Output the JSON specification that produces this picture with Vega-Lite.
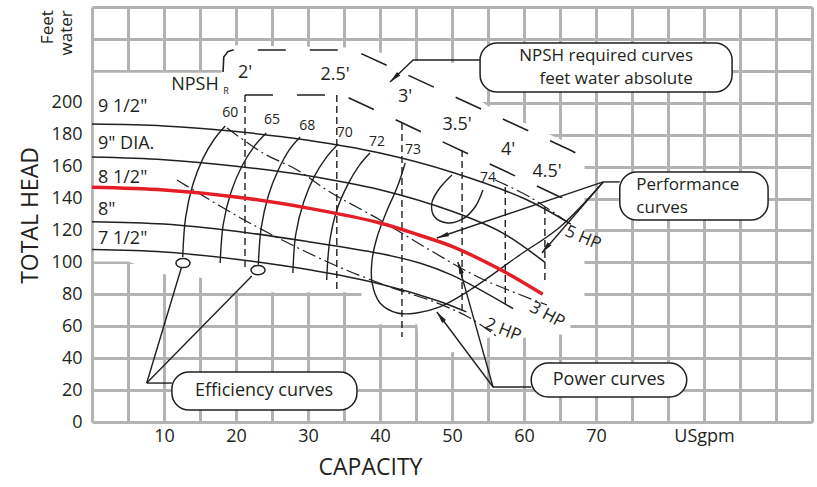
{
  "$schema": "https://vega.github.io/schema/vega-lite/v6.json",
  "width": 720,
  "height": 415,
  "autosize": {"type": "none"},
  "padding": {"left": 92, "top": 7, "right": 5, "bottom": 65},
  "background": "white",
  "config": {"view": {"stroke": null}, "font": "Open Sans"},
  "datasets": {
    "knock": [
      {"gpm": 0.25, "ft": 218.8, "ft2": 100.5},
      {"gpm": 5.0, "ft": 218.8, "ft2": 100.5},
      {"gpm": 10.0, "ft": 218.8, "ft2": 92.5},
      {"gpm": 15.0, "ft": 218.8, "ft2": 90.5},
      {"gpm": 18.0, "ft": 218.8, "ft2": 86},
      {"gpm": 18.2, "ft": 236, "ft2": 85.5},
      {"gpm": 20.0, "ft": 236, "ft2": 81.3},
      {"gpm": 37.4, "ft": 234.5, "ft2": 81.3},
      {"gpm": 37.7, "ft": 234, "ft2": 61.3},
      {"gpm": 45.2, "ft": 226, "ft2": 61.3},
      {"gpm": 45.5, "ft": 226, "ft2": 44},
      {"gpm": 50, "ft": 225, "ft2": 43.5},
      {"gpm": 53.8, "ft": 225, "ft2": 50.5},
      {"gpm": 54.0, "ft": 201, "ft2": 51},
      {"gpm": 55, "ft": 197.9, "ft2": 52.8},
      {"gpm": 60, "ft": 187.5, "ft2": 52.8},
      {"gpm": 65, "ft": 177.1, "ft2": 54.8},
      {"gpm": 66.3, "ft": 174.4, "ft2": 54.8},
      {"gpm": 66.5, "ft": 174, "ft2": 61.3},
      {"gpm": 68.4, "ft": 170, "ft2": 61.3}
    ],
    "imp": [
      {"curve": "9 1/2", "gpm": 0, "ft": 186.7}, {"curve": "9 1/2", "gpm": 10, "ft": 185.5}, {"curve": "9 1/2", "gpm": 20, "ft": 182}, {"curve": "9 1/2", "gpm": 30, "ft": 176.5}, {"curve": "9 1/2", "gpm": 40, "ft": 168.5}, {"curve": "9 1/2", "gpm": 50, "ft": 156.5}, {"curve": "9 1/2", "gpm": 60, "ft": 140}, {"curve": "9 1/2", "gpm": 66.5, "ft": 124},
      {"curve": "9", "gpm": 0, "ft": 166}, {"curve": "9", "gpm": 10, "ft": 164.3}, {"curve": "9", "gpm": 20, "ft": 160.3}, {"curve": "9", "gpm": 30, "ft": 154.3}, {"curve": "9", "gpm": 40, "ft": 145.5}, {"curve": "9", "gpm": 50, "ft": 132}, {"curve": "9", "gpm": 57, "ft": 118.5}, {"curve": "9", "gpm": 62.9, "ft": 100},
      {"curve": "8 1/2", "gpm": 0, "ft": 147}, {"curve": "8 1/2", "gpm": 10, "ft": 145.3}, {"curve": "8 1/2", "gpm": 20, "ft": 141}, {"curve": "8 1/2", "gpm": 30, "ft": 134}, {"curve": "8 1/2", "gpm": 40, "ft": 124.7}, {"curve": "8 1/2", "gpm": 45.5, "ft": 117}, {"curve": "8 1/2", "gpm": 50, "ft": 110}, {"curve": "8 1/2", "gpm": 56.7, "ft": 95.5}, {"curve": "8 1/2", "gpm": 62.6, "ft": 80},
      {"curve": "8", "gpm": 0, "ft": 125.5}, {"curve": "8", "gpm": 10, "ft": 124}, {"curve": "8", "gpm": 20, "ft": 119.5}, {"curve": "8", "gpm": 30, "ft": 113}, {"curve": "8", "gpm": 40, "ft": 105.5}, {"curve": "8", "gpm": 45.5, "ft": 99.6}, {"curve": "8", "gpm": 50, "ft": 92}, {"curve": "8", "gpm": 58.5, "ft": 71},
      {"curve": "7 1/2", "gpm": 0, "ft": 108}, {"curve": "7 1/2", "gpm": 10, "ft": 106.5}, {"curve": "7 1/2", "gpm": 20, "ft": 102}, {"curve": "7 1/2", "gpm": 30, "ft": 95.5}, {"curve": "7 1/2", "gpm": 40, "ft": 86.5}, {"curve": "7 1/2", "gpm": 48, "ft": 76}, {"curve": "7 1/2", "gpm": 52, "ft": 69}
    ],
    "eff": [
      {"curve": "60", "i": 0, "gpm": 12.6, "ft": 103.4}, {"curve": "60", "i": 1, "gpm": 13.0, "ft": 128.0}, {"curve": "60", "i": 2, "gpm": 14.0, "ft": 148.6}, {"curve": "60", "i": 3, "gpm": 15.4, "ft": 165.0}, {"curve": "60", "i": 4, "gpm": 17.0, "ft": 177.3}, {"curve": "60", "i": 5, "gpm": 18.5, "ft": 185.5},
      {"curve": "65", "i": 0, "gpm": 17.8, "ft": 99.6}, {"curve": "65", "i": 1, "gpm": 18.24, "ft": 124.1}, {"curve": "65", "i": 2, "gpm": 19.34, "ft": 144.4}, {"curve": "65", "i": 3, "gpm": 20.87, "ft": 160.7}, {"curve": "65", "i": 4, "gpm": 22.58, "ft": 173.0}, {"curve": "65", "i": 5, "gpm": 24.2, "ft": 181.1},
      {"curve": "68", "i": 0, "gpm": 23.1, "ft": 98.5}, {"curve": "68", "i": 1, "gpm": 23.5, "ft": 121.6}, {"curve": "68", "i": 2, "gpm": 24.5, "ft": 141.9}, {"curve": "68", "i": 3, "gpm": 25.9, "ft": 158.2}, {"curve": "68", "i": 4, "gpm": 27.4, "ft": 170.5}, {"curve": "68", "i": 5, "gpm": 28.9, "ft": 178.6},
      {"curve": "70", "i": 0, "gpm": 27.9, "ft": 93.4}, {"curve": "70", "i": 1, "gpm": 28.3, "ft": 117.6}, {"curve": "70", "i": 2, "gpm": 29.4, "ft": 137.8}, {"curve": "70", "i": 3, "gpm": 30.9, "ft": 154.0}, {"curve": "70", "i": 4, "gpm": 32.6, "ft": 166.1}, {"curve": "70", "i": 5, "gpm": 34.2, "ft": 174.2},
      {"curve": "72", "i": 0, "gpm": 32.6, "ft": 89}, {"curve": "72", "i": 1, "gpm": 33.0, "ft": 112.9}, {"curve": "72", "i": 2, "gpm": 34.0, "ft": 132.7}, {"curve": "72", "i": 3, "gpm": 35.5, "ft": 148.6}, {"curve": "72", "i": 4, "gpm": 37.1, "ft": 160.6}, {"curve": "72", "i": 5, "gpm": 38.6, "ft": 168.5},
      {"curve": "73", "i": 0, "gpm": 43.5, "ft": 162.3}, {"curve": "73", "i": 1, "gpm": 42.4, "ft": 147.2}, {"curve": "73", "i": 2, "gpm": 41.0, "ft": 132.8}, {"curve": "73", "i": 3, "gpm": 39.6, "ft": 115.9}, {"curve": "73", "i": 4, "gpm": 38.9, "ft": 101.5}, {"curve": "73", "i": 5, "gpm": 38.9, "ft": 87.1}, {"curve": "73", "i": 6, "gpm": 40.0, "ft": 74.6}, {"curve": "73", "i": 7, "gpm": 42.4, "ft": 68.3}, {"curve": "73", "i": 8, "gpm": 45.1, "ft": 68.3}, {"curve": "73", "i": 9, "gpm": 48.3, "ft": 72.1}, {"curve": "73", "i": 10, "gpm": 52.5, "ft": 82.7}, {"curve": "73", "i": 11, "gpm": 59.4, "ft": 104.6}, {"curve": "73", "i": 12, "gpm": 65.0, "ft": 122.2}, {"curve": "73", "i": 13, "gpm": 71.0, "ft": 150.4},
      {"curve": "74", "i": 0, "gpm": 50.0, "ft": 154.8}, {"curve": "74", "i": 1, "gpm": 48.3, "ft": 146.6}, {"curve": "74", "i": 2, "gpm": 47.2, "ft": 137.2}, {"curve": "74", "i": 3, "gpm": 47.6, "ft": 128.4}, {"curve": "74", "i": 4, "gpm": 49.4, "ft": 124.7}, {"curve": "74", "i": 5, "gpm": 51.5, "ft": 127.2}, {"curve": "74", "i": 6, "gpm": 53.2, "ft": 134.7}, {"curve": "74", "i": 7, "gpm": 54.3, "ft": 145.4}
    ],
    "power": [
      {"hp": "2", "i": 0, "gpm": 11.8, "ft": 151.6}, {"hp": "2", "i": 1, "gpm": 21.9, "ft": 124.7}, {"hp": "2", "i": 2, "gpm": 33.05, "ft": 99.6}, {"hp": "2", "i": 3, "gpm": 41.4, "ft": 84.6}, {"hp": "2", "i": 4, "gpm": 47.9, "ft": 74.6}, {"hp": "2", "i": 5, "gpm": 52.5, "ft": 65.2}, {"hp": "2", "i": 6, "gpm": 56.25, "ft": 53.5},
      {"hp": "3", "i": 0, "gpm": 18.75, "ft": 184.2}, {"hp": "3", "i": 1, "gpm": 23.75, "ft": 168.5}, {"hp": "3", "i": 2, "gpm": 28.5, "ft": 157.9}, {"hp": "3", "i": 3, "gpm": 33.05, "ft": 144.1}, {"hp": "3", "i": 4, "gpm": 40, "ft": 126.6}, {"hp": "3", "i": 5, "gpm": 46.9, "ft": 107.8}, {"hp": "3", "i": 6, "gpm": 53.9, "ft": 90.2}, {"hp": "3", "i": 7, "gpm": 63.2, "ft": 73.3},
      {"hp": "5", "i": 0, "gpm": 56, "ft": 151.6}, {"hp": "5", "i": 1, "gpm": 60.8, "ft": 141}, {"hp": "5", "i": 2, "gpm": 66, "ft": 125.3}
    ],
    "npshv": [
      {"n": "2", "gpm": 21.25, "ft": 204.9, "ft2": 96.5},
      {"n": "2.5", "gpm": 34.0, "ft": 204.9, "ft2": 81.5},
      {"n": "3", "gpm": 43.05, "ft": 187.3, "ft2": 53.3},
      {"n": "3.5", "gpm": 51.4, "ft": 170.4, "ft2": 68.9},
      {"n": "4", "gpm": 57.4, "ft": 147.2, "ft2": 72.1},
      {"n": "4.5", "gpm": 62.9, "ft": 134.7, "ft2": 89.0}
    ],
    "npshb": [
      {"b": "upper", "i": 0, "gpm": 18.2, "ft": 219.3}, {"b": "upper", "i": 1, "gpm": 18.3, "ft": 228.7}, {"b": "upper", "i": 2, "gpm": 18.9, "ft": 232.2}, {"b": "upper", "i": 3, "gpm": 19.6, "ft": 233.1}, {"b": "upper", "i": 4, "gpm": 35.8, "ft": 233.1}, {"b": "upper", "i": 5, "gpm": 37.2, "ft": 231.2}, {"b": "upper", "i": 6, "gpm": 66.4, "ft": 170.4}, {"b": "upper", "i": 7, "gpm": 67.6, "ft": 167.5}, {"b": "upper", "i": 8, "gpm": 68.4, "ft": 164.5}, {"b": "upper", "i": 9, "gpm": 68.75, "ft": 160.4},
      {"b": "lower", "i": 0, "gpm": 21.25, "ft": 204.9}, {"b": "lower", "i": 1, "gpm": 34.0, "ft": 204.9}, {"b": "lower", "i": 2, "gpm": 35.1, "ft": 204.3}, {"b": "lower", "i": 3, "gpm": 65.0, "ft": 141.0}, {"b": "lower", "i": 4, "gpm": 66.2, "ft": 139.5}, {"b": "lower", "i": 5, "gpm": 67.3, "ft": 139.5}
    ],
    "pointers": [
      {"seg": "eff1", "i": 0, "gpm": 7.6, "ft": 24.4}, {"seg": "eff1", "i": 1, "gpm": 12.4, "ft": 96.5},
      {"seg": "eff2", "i": 0, "gpm": 7.6, "ft": 24.4}, {"seg": "eff2", "i": 1, "gpm": 22.2, "ft": 91.5},
      {"seg": "eff3", "i": 0, "gpm": 7.6, "ft": 24.4}, {"seg": "eff3", "i": 1, "gpm": 11.1, "ft": 24.4},
      {"seg": "pow1", "i": 0, "gpm": 55.7, "ft": 21.9}, {"seg": "pow1", "i": 1, "gpm": 50.8, "ft": 100.3},
      {"seg": "pow2", "i": 0, "gpm": 55.7, "ft": 21.9}, {"seg": "pow2", "i": 1, "gpm": 47.9, "ft": 68.9},
      {"seg": "pow3", "i": 0, "gpm": 55.7, "ft": 21.9}, {"seg": "pow3", "i": 1, "gpm": 61, "ft": 21.9},
      {"seg": "perf1", "i": 0, "gpm": 71, "ft": 150.4}, {"seg": "perf1", "i": 1, "gpm": 47.9, "ft": 115.3},
      {"seg": "perf2", "i": 0, "gpm": 71, "ft": 150.4}, {"seg": "perf2", "i": 1, "gpm": 62.5, "ft": 105.9},
      {"seg": "perf3", "i": 0, "gpm": 71, "ft": 150.4}, {"seg": "perf3", "i": 1, "gpm": 73.3, "ft": 150.4},
      {"seg": "npsh", "i": 0, "gpm": 53.9, "ft": 226.8}, {"seg": "npsh", "i": 1, "gpm": 44.6, "ft": 226.8}, {"seg": "npsh", "i": 2, "gpm": 41.4, "ft": 213.0}
    ],
    "boxes": [
      {"box": "eff", "gpm": 11.1, "gpm2": 36.8, "ft": 31.3, "ft2": 7.5},
      {"box": "pow", "gpm": 61.0, "gpm2": 82.6, "ft": 37.0, "ft2": 15.7},
      {"box": "perf", "gpm": 73.3, "gpm2": 93.9, "ft": 156.6, "ft2": 126.6},
      {"box": "npsh", "gpm": 53.9, "gpm2": 88.9, "ft": 237.4, "ft2": 206.8}
    ],
    "ovals": [
      {"gpm": 12.64, "ft": 99.6},
      {"gpm": 23.06, "ft": 95.2}
    ]
  },
  "encoding": {
    "x": {
      "field": "gpm",
      "type": "quantitative",
      "scale": {"domain": [0, 100], "nice": false, "zero": false},
      "axis": {
        "values": [0, 5, 10, 15, 20, 25, 30, 35, 40, 45, 50, 55, 60, 65, 70, 75, 80, 85, 90, 95, 100],
        "labelExpr": "datum.value == 85 ? 'USgpm' : ((datum.value > 0 && datum.value <= 70 && datum.value % 10 == 0) ? datum.label : '')",
        "grid": true, "gridColor": "#b3b3b3", "gridWidth": 3,
        "domain": false, "ticks": false,
        "labelFont": "Open Sans", "labelFontSize": 18, "labelColor": "#231f20", "labelPadding": 5,
        "labelOverlap": false, "labelFlush": false,
        "title": "CAPACITY", "titleFont": "Open Sans", "titleFontSize": 23, "titleFontWeight": "normal", "titleColor": "#231f20",
        "titleX": 278, "titleY": 45, "titleAlign": "center", "titleBaseline": "middle"
      }
    },
    "y": {
      "field": "ft",
      "type": "quantitative",
      "scale": {"domain": [0, 260], "nice": false, "zero": false},
      "axis": {
        "values": [0, 20, 40, 60, 80, 100, 120, 140, 160, 180, 200, 220, 240, 260],
        "labelExpr": "datum.value <= 200 ? datum.label : ''",
        "grid": true, "gridColor": "#b3b3b3", "gridWidth": 3,
        "domain": false, "ticks": false,
        "labelFont": "Open Sans", "labelFontSize": 18, "labelColor": "#231f20", "labelPadding": 10,
        "labelOverlap": false, "labelFlush": false,
        "title": "TOTAL HEAD", "titleFont": "Open Sans", "titleFontSize": 23, "titleFontWeight": "normal", "titleColor": "#231f20",
        "titleX": -62, "titleY": 208, "titleAngle": 270, "titleAlign": "center", "titleBaseline": "middle"
      }
    }
  },
  "layer": [
    {
      "data": {"name": "knock"},
      "mark": {"type": "area", "color": "white", "opacity": 1},
      "encoding": {"y2": {"field": "ft2"}}
    },
    {
      "data": {"name": "npshv"},
      "mark": {"type": "rule", "color": "#231f20", "strokeWidth": 1.4, "strokeDash": [7, 4]},
      "encoding": {"y2": {"field": "ft2"}}
    },
    {
      "data": {"name": "npshb"},
      "mark": {"type": "line", "color": "#231f20", "strokeWidth": 1.6, "strokeDash": [28, 24]},
      "encoding": {"detail": {"field": "b"}, "order": {"field": "i"}}
    },
    {
      "data": {"name": "power"},
      "mark": {"type": "line", "color": "#231f20", "strokeWidth": 1.2, "strokeDash": [14, 4, 2, 4], "interpolate": "catmull-rom"},
      "encoding": {"detail": {"field": "hp"}, "order": {"field": "i"}}
    },
    {
      "data": {"name": "eff"},
      "mark": {"type": "line", "color": "#231f20", "strokeWidth": 1.4, "interpolate": "catmull-rom"},
      "encoding": {"detail": {"field": "curve"}, "order": {"field": "i"}}
    },
    {
      "data": {"name": "imp"},
      "transform": [{"filter": "datum.curve != '8 1/2'"}],
      "mark": {"type": "line", "color": "#231f20", "strokeWidth": 1.5, "interpolate": "catmull-rom"},
      "encoding": {"detail": {"field": "curve"}}
    },
    {
      "data": {"name": "imp"},
      "transform": [{"filter": "datum.curve == '8 1/2'"}],
      "mark": {"type": "line", "color": "#e41e26", "strokeWidth": 3.5, "interpolate": "catmull-rom"},
      "encoding": {}
    },
    {
      "data": {"name": "pointers"},
      "mark": {"type": "line", "color": "#231f20", "strokeWidth": 1.4},
      "encoding": {"detail": {"field": "seg"}, "order": {"field": "i"}}
    },
    {
      "data": {"name": "ovals"},
      "mark": {"type": "point", "shape": "M-1,0A1,0.65,0,1,0,1,0A1,0.65,0,1,0,-1,0Z", "size": 200, "filled": true, "fill": "white", "stroke": "#231f20", "strokeWidth": 1.5, "opacity": 1}
    },
    {
      "data": {"values": [{"gpm": 42.0, "ft": 215.6}]},
      "mark": {"type": "point", "shape": "M0,-1L0.4,1L-0.4,1Z", "size": 140, "filled": true, "color": "#231f20", "opacity": 1, "angle": 226}
    },
    {
      "data": {"values": [{"gpm": 48.7, "ft": 116.5}]},
      "mark": {"type": "point", "shape": "M0,-1L0.4,1L-0.4,1Z", "size": 140, "filled": true, "color": "#231f20", "opacity": 1, "angle": 251}
    },
    {
      "data": {"values": [{"gpm": 63.0, "ft": 108.8}]},
      "mark": {"type": "point", "shape": "M0,-1L0.4,1L-0.4,1Z", "size": 140, "filled": true, "color": "#231f20", "opacity": 1, "angle": 221}
    },
    {
      "data": {"values": [{"gpm": 51.1, "ft": 96.6}]},
      "mark": {"type": "point", "shape": "M0,-1L0.4,1L-0.4,1Z", "size": 140, "filled": true, "color": "#231f20", "opacity": 1, "angle": 344}
    },
    {
      "data": {"values": [{"gpm": 48.4, "ft": 65.9}]},
      "mark": {"type": "point", "shape": "M0,-1L0.4,1L-0.4,1Z", "size": 140, "filled": true, "color": "#231f20", "opacity": 1, "angle": 323}
    },
    {
      "data": {"name": "boxes"},
      "mark": {"type": "rect", "fill": "white", "stroke": "#231f20", "strokeWidth": 1.5, "cornerRadius": 17},
      "encoding": {"x2": {"field": "gpm2"}, "y2": {"field": "ft2"}}
    },
    {
      "data": {"values": [
        {"t": "9 1/2\"", "gpm": 0.83, "ft": 197.4},
        {"t": "9\" DIA.", "gpm": 0.83, "ft": 174.2},
        {"t": "8 1/2\"", "gpm": 0.83, "ft": 152.9},
        {"t": "8\"", "gpm": 0.83, "ft": 132.8},
        {"t": "7 1/2\"", "gpm": 0.83, "ft": 114.7}
      ]},
      "mark": {"type": "text", "align": "left", "baseline": "middle", "font": "Open Sans", "fontSize": 18, "color": "#231f20"},
      "encoding": {"text": {"field": "t"}}
    },
    {
      "data": {"values": [
        {"t": "60", "gpm": 19.2, "ft": 193.6},
        {"t": "65", "gpm": 25.0, "ft": 189.2},
        {"t": "68", "gpm": 29.9, "ft": 185.5},
        {"t": "70", "gpm": 35.1, "ft": 181.1},
        {"t": "72", "gpm": 39.6, "ft": 175.4},
        {"t": "73", "gpm": 44.6, "ft": 170.4},
        {"t": "74", "gpm": 55.0, "ft": 152.9}
      ]},
      "mark": {"type": "text", "align": "center", "baseline": "middle", "font": "Open Sans", "fontSize": 14, "color": "#231f20"},
      "encoding": {"text": {"field": "t"}}
    },
    {
      "data": {"values": [
        {"t": "2'", "gpm": 21.25, "ft": 218.7},
        {"t": "2.5'", "gpm": 33.75, "ft": 217.4},
        {"t": "3'", "gpm": 43.5, "ft": 203.6},
        {"t": "3.5'", "gpm": 50.7, "ft": 186.1},
        {"t": "4'", "gpm": 57.8, "ft": 170.4},
        {"t": "4.5'", "gpm": 63.2, "ft": 156.6},
        {"t": "NPSH", "gpm": 14.3, "ft": 211.2}
      ]},
      "mark": {"type": "text", "align": "center", "baseline": "middle", "font": "Open Sans", "fontSize": 18, "color": "#231f20"},
      "encoding": {"text": {"field": "t"}}
    },
    {
      "data": {"values": [{"t": "R", "gpm": 18.6, "ft": 207.4}]},
      "mark": {"type": "text", "align": "center", "baseline": "middle", "font": "Open Sans", "fontSize": 9, "color": "#231f20"},
      "encoding": {"text": {"field": "t"}}
    },
    {
      "data": {"values": [
        {"t": "Efficiency curves", "gpm": 23.9, "ft": 19.4},
        {"t": "Power curves", "gpm": 71.8, "ft": 26.3}
      ]},
      "mark": {"type": "text", "align": "center", "baseline": "middle", "font": "Open Sans", "fontSize": 18, "color": "#231f20"},
      "encoding": {"text": {"field": "t"}}
    },
    {
      "data": {"values": [
        {"t": "NPSH required curves", "gpm": 71.4, "ft": 229.0},
        {"t": "feet water absolute", "gpm": 72.8, "ft": 215.0}
      ]},
      "mark": {"type": "text", "align": "center", "baseline": "middle", "font": "Open Sans", "fontSize": 17, "color": "#231f20"},
      "encoding": {"text": {"field": "t"}}
    },
    {
      "data": {"values": [
        {"t": "Performance", "gpm": 75.6, "ft": 148.2},
        {"t": "curves", "gpm": 75.6, "ft": 133.8}
      ]},
      "mark": {"type": "text", "align": "left", "baseline": "middle", "font": "Open Sans", "fontSize": 17, "color": "#231f20"},
      "encoding": {"text": {"field": "t"}}
    },
    {
      "data": {"values": [{"t": "2 HP", "gpm": 57.1, "ft": 57.6}]},
      "mark": {"type": "text", "align": "center", "baseline": "middle", "font": "Open Sans", "fontSize": 17, "color": "#231f20", "angle": 21},
      "encoding": {"text": {"field": "t"}}
    },
    {
      "data": {"values": [{"t": "3 HP", "gpm": 63.2, "ft": 67.0}]},
      "mark": {"type": "text", "align": "center", "baseline": "middle", "font": "Open Sans", "fontSize": 17, "color": "#231f20", "angle": 28},
      "encoding": {"text": {"field": "t"}}
    },
    {
      "data": {"values": [{"t": "5 HP", "gpm": 68.2, "ft": 115.3}]},
      "mark": {"type": "text", "align": "center", "baseline": "middle", "font": "Open Sans", "fontSize": 17, "color": "#231f20", "angle": 23},
      "encoding": {"text": {"field": "t"}}
    },
    {
      "data": {"values": [
        {"t": "Feet", "gpm": -6.1, "ft": 258},
        {"t": "water", "gpm": -3.5, "ft": 258}
      ]},
      "mark": {"type": "text", "align": "right", "baseline": "middle", "font": "Open Sans", "fontSize": 17, "color": "#231f20", "angle": 270},
      "encoding": {"text": {"field": "t"}}
    }
  ]
}
